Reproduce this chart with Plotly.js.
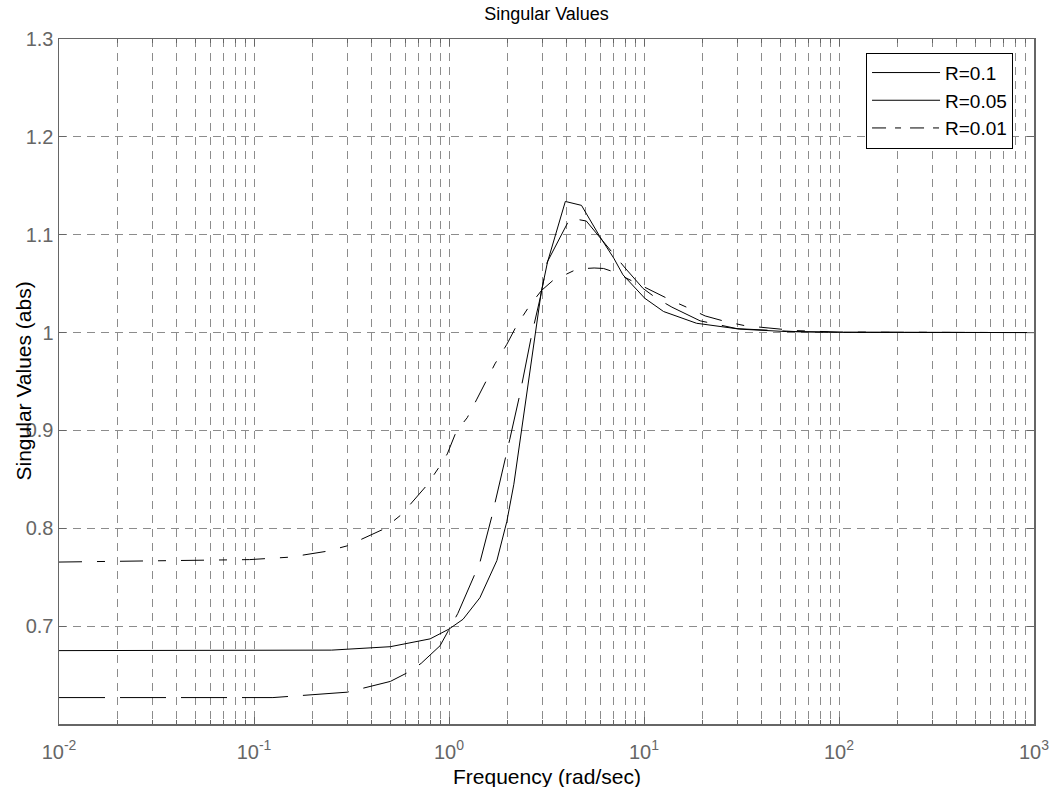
<!DOCTYPE html>
<html>
<head>
<meta charset="utf-8">
<script src="https://cdn.plot.ly/plotly-3.0.1.min.js"></script>
<style>html,body{margin:0;padding:0;background:#fff;}#chart{width:1059px;height:787px;}</style>
</head>
<body>
<div id="chart"></div>
<script>
// Frequencies (rad/sec) and singular values
const freqA = [0.01, 0.1, 0.25, 0.5, 0.8, 1.0, 1.18, 1.44, 1.76, 1.98, 2.15, 2.97, 3.2, 3.95, 4.78, 5.94, 7.0, 7.8, 10.1, 12.6, 18.6, 31, 54, 100, 1000];
const svA   = [0.675, 0.675, 0.6755, 0.679, 0.687, 0.697, 0.707, 0.729, 0.767, 0.807, 0.845, 1.041, 1.072, 1.134, 1.130, 1.098, 1.076, 1.059, 1.035, 1.0215, 1.0095, 1.0035, 1.001, 1.0003, 1.0];

const freqB = [0.01, 0.125, 0.3, 0.5, 0.62, 0.72, 0.9, 1.01, 1.11, 1.44, 1.66, 2.05, 2.31, 2.65, 2.94, 3.19, 4.18, 5.06, 7.1, 8.0, 9.9, 11.6, 13.9, 19.4, 30, 60, 100, 1000];
const svB   = [0.627, 0.627, 0.6325, 0.6435, 0.653, 0.662, 0.680, 0.698, 0.713, 0.765, 0.8125, 0.891, 0.937, 0.997, 1.036, 1.072, 1.117, 1.114, 1.078, 1.066, 1.045, 1.035, 1.026, 1.012, 1.004, 1.001, 1.0003, 1.0];

const freqC = [0.01, 0.053, 0.095, 0.153, 0.236, 0.30, 0.46, 0.57, 0.77, 0.90, 0.98, 1.09, 1.24, 1.39, 1.56, 1.72, 1.98, 2.22, 2.58, 2.98, 3.4, 4.55, 5.55, 6.2, 7.0, 10.6, 13.6, 16.5, 20.6, 26.5, 33, 60, 100, 1000];
const svC   = [0.7655, 0.767, 0.768, 0.7705, 0.7765, 0.782, 0.799, 0.814, 0.844, 0.864, 0.876, 0.899, 0.913, 0.932, 0.952, 0.968, 0.988, 1.007, 1.027, 1.043, 1.053, 1.065, 1.066, 1.0655, 1.062, 1.044, 1.0335, 1.026, 1.017, 1.011, 1.007, 1.002, 1.0005, 1.0];

const legendNames = ["R=0.1", "R=0.05", "R=0.01"];
const xTickVals = [0.01, 0.1, 1, 10, 100, 1000];
const xTickText = ["10<sup>-2</sup>", "10<sup>-1</sup>", "10<sup>0</sup>", "10<sup>1</sup>", "10<sup>2</sup>", "10<sup>3</sup>"];
const yTickVals = [0.7, 0.8, 0.9, 1.0, 1.1, 1.2, 1.3];
const yTickText = ["0.7", "0.8", "0.9", "1", "1.1", "1.2", "1.3"];

const FONT = '"Liberation Sans", Arial, Helvetica, sans-serif';
const AXC = '#666666';
const GRIDC = '#8c8c8c';

const traces = [
  {x: freqA, y: svA, mode: 'lines', line: {color: '#000', width: 1}, showlegend: false, hoverinfo: 'skip'},
  {x: freqB, y: svB, mode: 'lines', line: {color: '#000', width: 1, dash: '46px,15px'}, showlegend: false, hoverinfo: 'skip'},
  {x: freqC, y: svC, mode: 'lines', line: {color: '#000', width: 1, dash: '23px,15px,8px,15px'}, showlegend: false, hoverinfo: 'skip'},
  // legend entries (styled as in the reference legend)
  {x: [null], y: [null], mode: 'lines', name: legendNames[0], line: {color: '#000', width: 1}},
  {x: [null], y: [null], mode: 'lines', name: legendNames[1], line: {color: '#000', width: 1}},
  {x: [null], y: [null], mode: 'lines', name: legendNames[2], line: {color: '#000', width: 1, dash: '14px,9px,6px,9px'}}
];

const layout = {
  width: 1059, height: 787,
  margin: {l: 59, r: 25, t: 39, b: 63},
  paper_bgcolor: '#fff', plot_bgcolor: '#fff',
  font: {family: FONT, color: '#000'},
  title: {text: 'Singular Values', font: {family: FONT, size: 18, color: '#000'},
          x: 0.5, xref: 'paper', xanchor: 'center', y: 1 - 14/787, yref: 'container', yanchor: 'middle'},
  xaxis: {
    type: 'log', range: [-2, 3],
    tickmode: 'array', tickvals: xTickVals, ticktext: xTickText,
    tickfont: {family: FONT, size: 20, color: AXC},
    ticks: 'inside', ticklen: 7, tickcolor: AXC, tickwidth: 1,
    ticklabelstandoff: 9,
    showline: true, linecolor: AXC, linewidth: 1.5, mirror: 'ticks',
    showgrid: true, gridcolor: GRIDC, gridwidth: 1, griddash: '8px,6px',
    minor: {dtick: 'D1', ticks: 'inside', ticklen: 4, tickcolor: AXC,
            showgrid: true, gridcolor: GRIDC, gridwidth: 1, griddash: '8px,6px'},
    zeroline: false, fixedrange: true
  },
  yaxis: {
    range: [0.6, 1.3],
    tickmode: 'array', tickvals: yTickVals, ticktext: yTickText,
    tickfont: {family: FONT, size: 20, color: AXC},
    ticks: 'inside', ticklen: 7, tickcolor: AXC, tickwidth: 1,
    showline: true, linecolor: AXC, linewidth: 1.5, mirror: 'ticks',
    showgrid: true, gridcolor: GRIDC, gridwidth: 1, griddash: '8px,6px',
    zeroline: false, fixedrange: true
  },
  legend: {
    x: 0.9785, xanchor: 'right', y: 0.98, yanchor: 'top',
    bgcolor: '#fff', bordercolor: '#000', borderwidth: 1,
    font: {family: FONT, size: 19, color: '#000'},
    itemwidth: 68, tracegroupgap: 0
  },
  annotations: [
    {text: 'Frequency (rad/sec)', xref: 'paper', yref: 'paper', x: 0.5, y: (724 - 776) / 685,
     xanchor: 'center', yanchor: 'middle', showarrow: false, font: {family: FONT, size: 21, color: '#000'}},
    {text: 'Singular Values (abs)', xref: 'paper', yref: 'paper', x: (23 - 59) / 975, y: 0.5,
     xanchor: 'center', yanchor: 'middle', textangle: -90, showarrow: false, font: {family: FONT, size: 21, color: '#000'}}
  ]
};

Plotly.newPlot('chart', traces, layout, {displayModeBar: false, staticPlot: true});
</script>
</body>
</html>
